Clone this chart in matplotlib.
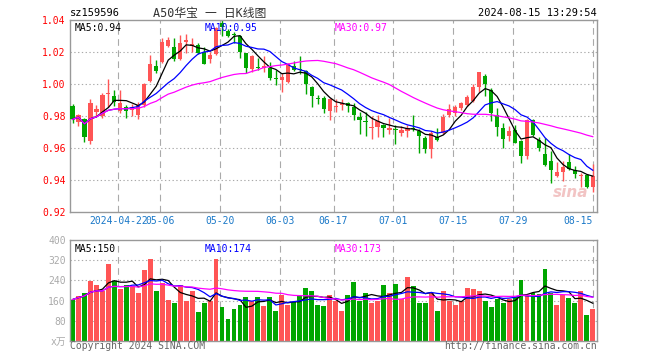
import matplotlib
matplotlib.use("Agg")
import matplotlib.pyplot as plt
import numpy as np
import pandas as pd

plt.rcParams['font.family'] = ['DejaVu Sans Mono', 'Noto Sans CJK SC']

# daily candles, 2024-04-10 .. 2024-08-15
opens = [0.9863, 0.9765, 0.9779, 0.9646, 0.9827, 0.9800, 0.9938, 0.9925, 0.9833, 0.9854,
         0.9840, 0.9806, 0.9869, 1.0020, 1.0113, 1.0140, 1.0238, 1.0233, 1.0154, 1.0263,
         1.0238, 1.0244, 1.0202, 1.0154, 1.0185, 1.0379, 1.0331, 1.0310, 1.0300, 1.0192,
         1.0092, 1.0106, 1.0098, 1.0098, 1.0033, 1.0025, 1.0015, 1.0113, 1.0090, 1.0083,
         0.9983, 0.9913, 0.9910, 0.9833, 0.9858, 0.9869, 0.9879, 0.9858, 0.9796, 0.9765,
         0.9727, 0.9729, 0.9744, 0.9713, 0.9715, 0.9696, 0.9708, 0.9721, 0.9708, 0.9660,
         0.9594, 0.9671, 0.9696, 0.9806, 0.9817, 0.9848, 0.9869, 0.9896, 0.9983, 1.0050,
         0.9963, 0.9806, 0.9723, 0.9675, 0.9713, 0.9646, 0.9552, 0.9775, 0.9650, 0.9563,
         0.9521, 0.9425, 0.9452, 0.9515, 0.9463, 0.9427, 0.9431, 0.9358]
highs = [0.9875, 0.9815, 0.9785, 0.9906, 0.9870, 0.9946, 1.0031, 0.9960, 0.9960, 0.9870,
         0.9875, 0.9890, 1.0004, 1.0181, 1.0150, 1.0285, 1.0296, 1.0285, 1.0306, 1.0313,
         1.0290, 1.0254, 1.0233, 1.0202, 1.0358, 1.0400, 1.0342, 1.0327, 1.0306, 1.0196,
         1.0181, 1.0160, 1.0175, 1.0140, 1.0087, 1.0071, 1.0129, 1.0146, 1.0175, 1.0087,
         0.9988, 0.9931, 0.9925, 0.9915, 0.9904, 0.9904, 0.9890, 0.9879, 0.9827, 0.9827,
         0.9800, 0.9806, 0.9750, 0.9785, 0.9744, 0.9738, 0.9744, 0.9806, 0.9717, 0.9675,
         0.9708, 0.9723, 0.9813, 0.9875, 0.9869, 0.9890, 0.9931, 1.0000, 1.0077, 1.0063,
         0.9973, 0.9848, 0.9754, 0.9738, 0.9744, 0.9650, 0.9779, 0.9779, 0.9667, 0.9660,
         0.9583, 0.9515, 0.9519, 0.9563, 0.9488, 0.9442, 0.9435, 0.9500]
lows = [0.9754, 0.9738, 0.9640, 0.9625, 0.9800, 0.9785, 0.9858, 0.9860, 0.9820, 0.9785,
        0.9800, 0.9779, 0.9854, 1.0015, 1.0070, 1.0129, 1.0233, 1.0146, 1.0150, 1.0192,
        1.0200, 1.0190, 1.0125, 1.0133, 1.0180, 1.0300, 1.0296, 1.0258, 1.0160, 1.0071,
        1.0077, 1.0088, 1.0077, 1.0025, 0.9994, 0.9952, 1.0008, 1.0080, 1.0063, 0.9938,
        0.9854, 0.9875, 0.9821, 0.9775, 0.9827, 0.9838, 0.9827, 0.9775, 0.9688, 0.9675,
        0.9654, 0.9667, 0.9667, 0.9690, 0.9625, 0.9675, 0.9667, 0.9708, 0.9571, 0.9571,
        0.9540, 0.9646, 0.9688, 0.9792, 0.9800, 0.9838, 0.9860, 0.9885, 0.9952, 0.9925,
        0.9771, 0.9675, 0.9598, 0.9646, 0.9629, 0.9504, 0.9529, 0.9675, 0.9583, 0.9488,
        0.9379, 0.9421, 0.9396, 0.9463, 0.9410, 0.9354, 0.9348, 0.9327]
closes = [0.9779, 0.9806, 0.9667, 0.9879, 0.9842, 0.9931, 0.9946, 0.9890, 0.9879, 0.9833,
          0.9856, 0.9869, 1.0000, 1.0125, 1.0081, 1.0265, 1.0275, 1.0154, 1.0254, 1.0275,
          1.0250, 1.0196, 1.0125, 1.0181, 1.0348, 1.0354, 1.0302, 1.0304, 1.0202, 1.0098,
          1.0175, 1.0102, 1.0113, 1.0035, 1.0029, 1.0042, 1.0123, 1.0088, 1.0087, 1.0000,
          0.9925, 0.9908, 0.9844, 0.9904, 0.9865, 0.9883, 0.9862, 0.9806, 0.9775, 0.9760,
          0.9731, 0.9771, 0.9727, 0.9727, 0.9710, 0.9713, 0.9727, 0.9717, 0.9675, 0.9594,
          0.9692, 0.9650, 0.9796, 0.9842, 0.9858, 0.9879, 0.9917, 0.9983, 1.0077, 1.0000,
          0.9817, 0.9733, 0.9654, 0.9708, 0.9633, 0.9552, 0.9775, 0.9681, 0.9598, 0.9494,
          0.9463, 0.9452, 0.9479, 0.9467, 0.9438, 0.9433, 0.9358, 0.9425]
# volume in 10k lots
volumes = [164, 180, 192, 237, 220, 197, 304, 237, 207, 220,
           217, 189, 280, 325, 200, 229, 164, 149, 220, 160,
           200, 116, 152, 160, 325, 133, 89, 128, 144, 173,
           157, 173, 137, 173, 120, 181, 144, 156, 177, 209,
           197, 144, 137, 184, 160, 120, 184, 232, 160, 192,
           152, 157, 220, 192, 224, 168, 252, 216, 149, 152,
           192, 120, 200, 157, 144, 157, 210, 206, 200, 157,
           136, 168, 152, 168, 176, 240, 184, 192, 188, 285,
           192, 144, 184, 170, 149, 200, 101, 128]

tick_idx = [8, 15, 25, 35, 44, 54, 64, 74, 87]
tick_labels = ['2024-04-22', '05-06', '05-20', '06-03', '06-17', '07-01', '07-15', '07-29', '08-15']
price_ticks = [0.92, 0.94, 0.96, 0.98, 1.00, 1.02, 1.04]
vol_ticks = [0, 80, 160, 240, 320, 400]

RED = '#ff5555'
GREEN = '#00a600'
GRID = '#aaaaaa'

W, H = 660, 360
fig = plt.figure(figsize=(6.6, 3.6), dpi=100)


def box(x0, y0, x1, y1):
    return [x0 / W, 1 - y1 / H, (x1 - x0) / W, (y1 - y0) / H]


ax = fig.add_axes(box(70, 20, 597, 212))
axv = fig.add_axes(box(70, 240, 597, 341))

o = np.array(opens); h = np.array(highs); l = np.array(lows); c = np.array(closes)
v = np.array(volumes)
x = np.arange(len(c))
up = c >= o
cols = np.where(up, RED, GREEN)

# grids
for a in (ax, axv):
    for t in tick_idx[:-1]:
        a.axvline(t - 0.35, color=GRID, lw=0.8, ls=(0, (6, 4)), zorder=0)
    a.axvline(tick_idx[-1] + 0.05, color=GRID, lw=0.8, ls=(0, (6, 4)), zorder=0)
for p in price_ticks[1:-1]:
    ax.axhline(p, color=GRID, lw=0.8, ls=(0, (1.2, 2.2)), zorder=0)
for q in vol_ticks[1:-1]:
    axv.axhline(q, color=GRID, lw=0.8, ls=(0, (1.2, 2.2)), zorder=0)

# candles
ax.vlines(x, l, h, colors=cols, lw=1, zorder=2)
body_h = np.maximum(np.abs(c - o), 0.0006)
ax.bar(x, body_h, bottom=np.minimum(o, c), width=0.7, color=cols, zorder=3, linewidth=0)

ma5 = pd.Series(c).rolling(5, min_periods=1).mean()
ma10 = pd.Series(c).rolling(10, min_periods=1).mean()
ma30 = pd.Series(c).rolling(30, min_periods=1).mean()
ax.plot(x, ma5, color='black', lw=0.9, zorder=4)
ax.plot(x, ma10, color='#0000ff', lw=0.9, zorder=4)
ax.plot(x, ma30, color='#ff00ff', lw=0.9, zorder=4)

ax.set_xlim(-0.42, 87.7)
ax.set_ylim(0.92, 1.04)
ax.set_yticks(price_ticks)
ax.set_yticklabels(['%.2f' % p for p in price_ticks], color='red', fontsize=7)
ax.set_xticks([t - 0.35 if t != tick_idx[-1] else t + 0.05 for t in tick_idx])
ax.set_xticklabels(tick_labels, color='#1a78c8', fontsize=7)
ax.get_xticklabels()[-1].set_ha('right')
ax.tick_params(length=0, pad=3)

fs = 7
ax.text(0.008, 0.985, 'MA5:%.2f' % ma5.iloc[-1], transform=ax.transAxes, color='black', fontsize=fs, va='top')
ax.text(0.255, 0.985, 'MA10:%.2f' % ma10.iloc[-1], transform=ax.transAxes, color='#0000ff', fontsize=fs, va='top')
ax.text(0.502, 0.985, 'MA30:%.2f' % ma30.iloc[-1], transform=ax.transAxes, color='#ff00ff', fontsize=fs, va='top')
ax.text(0.95, 0.08, 'sina', transform=ax.transAxes, color='#f2c4c4', fontsize=11,
        style='italic', fontweight='bold', ha='center', family='DejaVu Sans', zorder=1)

# volume
axv.bar(x, v, width=0.82, color=cols, linewidth=0, zorder=2)
vma5 = pd.Series(v).rolling(5, min_periods=1).mean()
vma10 = pd.Series(v).rolling(10, min_periods=1).mean()
vma30 = pd.Series(v).rolling(30, min_periods=1).mean()
axv.plot(x, vma5, color='black', lw=0.9, zorder=4)
axv.plot(x, vma10, color='#0000ff', lw=0.9, zorder=4)
axv.plot(x, vma30, color='#ff00ff', lw=0.9, zorder=4)
axv.set_xlim(-0.42, 87.7)
axv.set_ylim(0, 400)
axv.set_xticks([])
axv.set_yticks(vol_ticks)
axv.set_yticklabels(['x万'] + [str(t) for t in vol_ticks[1:]], color='#aaaaaa', fontsize=7)
axv.tick_params(length=0, pad=3)
axv.text(0.008, 0.96, 'MA5:%d' % round(vma5.iloc[-1]), transform=axv.transAxes, color='black', fontsize=fs, va='top')
axv.text(0.255, 0.96, 'MA10:%d' % round(vma10.iloc[-1]), transform=axv.transAxes, color='#0000ff', fontsize=fs, va='top')
axv.text(0.502, 0.96, 'MA30:%d' % round(vma30.iloc[-1]), transform=axv.transAxes, color='#ff00ff', fontsize=fs, va='top')

for a in (ax, axv):
    for s in a.spines.values():
        s.set_color('#999999')
        s.set_linewidth(1)

# header / footer
fig.text(70 / W, 1 - 13 / H, 'sz159596', fontsize=7.5, va='center', ha='left')
fig.text(210 / W, 1 - 13 / H, 'A50华宝 一 日K线图', fontsize=8.5, va='center', ha='center', color='#333333')
fig.text(597 / W, 1 - 13 / H, '2024-08-15 13:29:54', fontsize=7.5, va='center', ha='right')
fig.text(70 / W, 1 - 346 / H, 'Copyright 2024 SINA.COM', fontsize=7, va='center', ha='left', color='#666666')
fig.text(597 / W, 1 - 346 / H, 'http://finance.sina.com.cn', fontsize=7, va='center', ha='right', color='#666666')

fig.savefig('out.png', dpi=100, facecolor='white')
